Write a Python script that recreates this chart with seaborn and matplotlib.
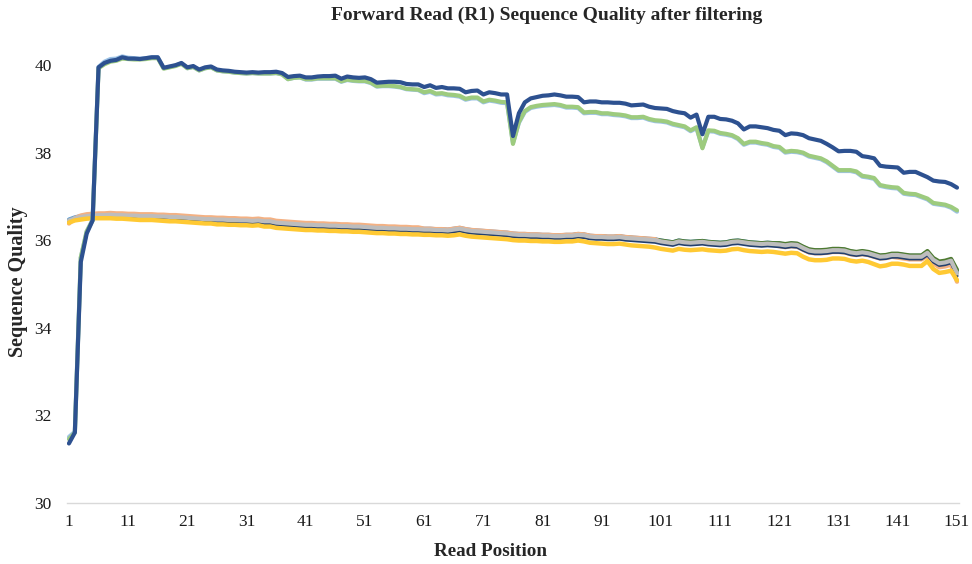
import numpy as np
import pandas as pd
import seaborn as sns
import matplotlib
matplotlib.use("Agg")
from matplotlib import pyplot as plt

# read positions 1..151 (x categories)
read_pos = np.arange(1, 152)
tick_pos = [1, 11, 21, 31, 41, 51, 61, 71, 81, 91, 101, 111, 121, 131, 141, 151]

# upper group of samples
dark_blue = [
    31.35, 31.60, 35.50, 36.15, 36.45, 39.95, 40.05, 40.10, 40.12, 40.18,
    40.15, 40.15, 40.14, 40.16, 40.18, 40.18, 39.94, 39.97, 40.00, 40.05,
    39.95, 39.98, 39.90, 39.95, 39.97, 39.90, 39.88, 39.87, 39.85, 39.84,
    39.83, 39.84, 39.83, 39.84, 39.84, 39.85, 39.82, 39.73, 39.75, 39.76,
    39.72, 39.72, 39.74, 39.75, 39.75, 39.76, 39.69, 39.74, 39.72, 39.71,
    39.72, 39.68, 39.60, 39.61, 39.62, 39.62, 39.61, 39.57, 39.56, 39.56,
    39.50, 39.54, 39.48, 39.50, 39.47, 39.47, 39.46, 39.38, 39.41, 39.42,
    39.33, 39.38, 39.36, 39.33, 39.33, 38.38, 38.90, 39.15, 39.24, 39.27,
    39.30, 39.31, 39.33, 39.31, 39.28, 39.28, 39.27, 39.15, 39.17, 39.17,
    39.15, 39.15, 39.14, 39.14, 39.12, 39.08, 39.09, 39.10, 39.05, 39.02,
    39.01, 39.00, 38.95, 38.92, 38.90, 38.80, 38.87, 38.42, 38.82, 38.82,
    38.77, 38.76, 38.73, 38.67, 38.53, 38.60, 38.60, 38.58, 38.56, 38.52,
    38.50, 38.40, 38.44, 38.43, 38.40, 38.33, 38.30, 38.27, 38.20, 38.12,
    38.03, 38.04, 38.04, 38.02, 37.92, 37.90, 37.87, 37.70, 37.68, 37.67,
    37.66, 37.54, 37.56, 37.56, 37.50, 37.44, 37.36, 37.34, 37.33, 37.28, 37.20]

light_green = [
    31.45, 31.60, 35.60, 36.20, 36.45, 39.93, 40.02, 40.08, 40.10, 40.15,
    40.14, 40.13, 40.13, 40.14, 40.16, 40.16, 39.92, 39.95, 39.98, 40.03,
    39.93, 39.96, 39.88, 39.93, 39.95, 39.88, 39.86, 39.85, 39.83, 39.82,
    39.81, 39.82, 39.81, 39.81, 39.81, 39.82, 39.79, 39.68, 39.71, 39.72,
    39.68, 39.68, 39.70, 39.70, 39.70, 39.70, 39.63, 39.67, 39.65, 39.64,
    39.64, 39.60, 39.52, 39.53, 39.53, 39.52, 39.50, 39.46, 39.45, 39.44,
    39.38, 39.41, 39.35, 39.36, 39.33, 39.32, 39.30, 39.23, 39.26, 39.26,
    39.17, 39.21, 39.19, 39.16, 39.15, 38.20, 38.70, 38.95, 39.04, 39.07,
    39.09, 39.10, 39.11, 39.09, 39.05, 39.05, 39.04, 38.92, 38.93, 38.93,
    38.90, 38.90, 38.88, 38.87, 38.85, 38.81, 38.81, 38.82, 38.77, 38.74,
    38.73, 38.71, 38.66, 38.63, 38.60, 38.51, 38.58, 38.10, 38.51, 38.50,
    38.45, 38.43, 38.40, 38.33, 38.20, 38.25, 38.25, 38.22, 38.20, 38.15,
    38.13, 38.02, 38.04, 38.03, 38.00, 37.93, 37.90, 37.87, 37.80, 37.70,
    37.60, 37.60, 37.60, 37.57, 37.47, 37.45, 37.42, 37.26, 37.23, 37.21,
    37.20, 37.08, 37.06, 37.05, 37.00, 36.95, 36.85, 36.83, 36.81, 36.76, 36.68]

light_blue = [
    31.50, 31.62, 35.60, 36.20, 36.47, 39.96, 40.08, 40.14, 40.15, 40.20,
    40.17, 40.16, 40.15, 40.16, 40.18, 40.18, 39.93, 39.96, 39.99, 40.04,
    39.93, 39.96, 39.88, 39.93, 39.95, 39.88, 39.86, 39.85, 39.83, 39.82,
    39.81, 39.82, 39.81, 39.81, 39.81, 39.82, 39.79, 39.68, 39.71, 39.72,
    39.67, 39.67, 39.69, 39.69, 39.69, 39.69, 39.62, 39.66, 39.64, 39.63,
    39.63, 39.59, 39.51, 39.52, 39.52, 39.51, 39.49, 39.45, 39.44, 39.43,
    39.36, 39.39, 39.33, 39.34, 39.31, 39.30, 39.28, 39.21, 39.24, 39.24,
    39.15, 39.19, 39.17, 39.14, 39.13, 38.22, 38.68, 38.93, 39.02, 39.05,
    39.07, 39.08, 39.09, 39.07, 39.03, 39.03, 39.02, 38.90, 38.91, 38.91,
    38.88, 38.88, 38.86, 38.85, 38.83, 38.79, 38.79, 38.80, 38.75, 38.72,
    38.71, 38.69, 38.64, 38.61, 38.58, 38.49, 38.56, 38.12, 38.49, 38.48,
    38.43, 38.41, 38.38, 38.31, 38.18, 38.23, 38.23, 38.20, 38.18, 38.13,
    38.11, 38.00, 38.02, 38.01, 37.98, 37.91, 37.88, 37.85, 37.78, 37.68,
    37.58, 37.58, 37.58, 37.55, 37.45, 37.43, 37.40, 37.24, 37.21, 37.19,
    37.18, 37.06, 37.04, 37.03, 36.98, 36.93, 36.83, 36.81, 36.79, 36.74, 36.65]

# lower group of samples
orange = [
    36.38, 36.50, 36.56, 36.59, 36.60, 36.61, 36.61, 36.62, 36.61, 36.61,
    36.60, 36.60, 36.59, 36.59, 36.59, 36.58, 36.58, 36.57, 36.57, 36.56,
    36.55, 36.54, 36.53, 36.52, 36.52, 36.51, 36.51, 36.50, 36.50, 36.49,
    36.49, 36.48, 36.49, 36.47, 36.47, 36.44, 36.43, 36.42, 36.41, 36.40,
    36.39, 36.39, 36.38, 36.38, 36.37, 36.37, 36.36, 36.36, 36.35, 36.35,
    36.34, 36.33, 36.32, 36.32, 36.31, 36.31, 36.30, 36.30, 36.29, 36.29,
    36.26, 36.26, 36.25, 36.25, 36.24, 36.26, 36.28, 36.25, 36.23, 36.22,
    36.21, 36.20, 36.19, 36.18, 36.17, 36.15, 36.14, 36.14, 36.13, 36.13,
    36.12, 36.12, 36.11, 36.11, 36.12, 36.12, 36.14, 36.13, 36.10, 36.09,
    36.09, 36.08, 36.08, 36.09, 36.07, 36.06, 36.05, 36.04, 36.03, 36.02,
    35.95, 35.93, 35.91, 35.95, 35.93, 35.92, 35.93, 35.94, 35.92, 35.91,
    35.90, 35.91, 35.94, 35.95, 35.93, 35.91, 35.90, 35.89, 35.90, 35.89,
    35.86, 35.84, 35.86, 35.85, 35.78, 35.72, 35.70, 35.70, 35.71, 35.73,
    35.73, 35.72, 35.68, 35.66, 35.68, 35.66, 35.62, 35.58, 35.59, 35.62,
    35.60, 35.58, 35.56, 35.56, 35.56, 35.64, 35.47, 35.38, 35.40, 35.44, 35.05]

gray = [
    36.45, 36.50, 36.53, 36.55, 36.56, 36.57, 36.57, 36.58, 36.57, 36.57,
    36.56, 36.56, 36.55, 36.55, 36.55, 36.54, 36.54, 36.53, 36.53, 36.52,
    36.51, 36.50, 36.49, 36.48, 36.48, 36.47, 36.47, 36.46, 36.46, 36.45,
    36.45, 36.44, 36.45, 36.43, 36.43, 36.40, 36.39, 36.38, 36.37, 36.36,
    36.35, 36.35, 36.34, 36.34, 36.33, 36.33, 36.32, 36.32, 36.31, 36.31,
    36.30, 36.29, 36.28, 36.28, 36.27, 36.27, 36.26, 36.26, 36.25, 36.25,
    36.24, 36.24, 36.23, 36.23, 36.22, 36.24, 36.26, 36.23, 36.21, 36.20,
    36.19, 36.18, 36.17, 36.16, 36.15, 36.13, 36.12, 36.12, 36.11, 36.11,
    36.10, 36.10, 36.09, 36.09, 36.10, 36.10, 36.12, 36.11, 36.08, 36.07,
    36.07, 36.06, 36.06, 36.07, 36.05, 36.04, 36.03, 36.02, 36.01, 36.00,
    35.97, 35.95, 35.93, 35.97, 35.95, 35.94, 35.95, 35.96, 35.94, 35.93,
    35.92, 35.93, 35.96, 35.97, 35.95, 35.93, 35.92, 35.91, 35.92, 35.91,
    35.90, 35.88, 35.90, 35.89, 35.82, 35.76, 35.74, 35.74, 35.75, 35.77,
    35.77, 35.76, 35.72, 35.70, 35.72, 35.70, 35.66, 35.62, 35.63, 35.66,
    35.66, 35.64, 35.62, 35.62, 35.62, 35.71, 35.55, 35.47, 35.49, 35.53, 35.24]

yellow = [
    36.40, 36.45, 36.47, 36.49, 36.50, 36.50, 36.50, 36.50, 36.49, 36.49,
    36.48, 36.47, 36.46, 36.46, 36.46, 36.45, 36.44, 36.43, 36.43, 36.42,
    36.41, 36.40, 36.39, 36.38, 36.38, 36.36, 36.36, 36.35, 36.35, 36.34,
    36.34, 36.33, 36.34, 36.31, 36.31, 36.28, 36.27, 36.26, 36.25, 36.24,
    36.23, 36.23, 36.22, 36.22, 36.21, 36.21, 36.20, 36.20, 36.19, 36.19,
    36.18, 36.17, 36.16, 36.16, 36.15, 36.15, 36.14, 36.14, 36.13, 36.13,
    36.12, 36.12, 36.11, 36.11, 36.10, 36.11, 36.13, 36.10, 36.08, 36.07,
    36.06, 36.05, 36.04, 36.03, 36.02, 36.00, 35.99, 35.99, 35.98, 35.98,
    35.97, 35.97, 35.96, 35.96, 35.97, 35.97, 35.99, 35.97, 35.94, 35.93,
    35.92, 35.91, 35.91, 35.92, 35.90, 35.88, 35.87, 35.86, 35.85, 35.83,
    35.80, 35.78, 35.76, 35.80, 35.78, 35.77, 35.78, 35.79, 35.77, 35.76,
    35.75, 35.76, 35.79, 35.80, 35.77, 35.75, 35.74, 35.73, 35.74, 35.73,
    35.71, 35.69, 35.71, 35.70, 35.62, 35.56, 35.54, 35.54, 35.55, 35.58,
    35.58, 35.57, 35.53, 35.51, 35.53, 35.50, 35.45, 35.40, 35.42, 35.46,
    35.46, 35.44, 35.41, 35.41, 35.41, 35.52, 35.34, 35.25, 35.27, 35.30, 35.08]

navy = [
    36.42, 36.47, 36.49, 36.51, 36.52, 36.53, 36.53, 36.54, 36.53, 36.53,
    36.52, 36.52, 36.51, 36.51, 36.51, 36.50, 36.50, 36.49, 36.49, 36.48,
    36.46, 36.45, 36.44, 36.43, 36.43, 36.42, 36.42, 36.41, 36.41, 36.40,
    36.40, 36.39, 36.40, 36.38, 36.38, 36.35, 36.34, 36.33, 36.32, 36.31,
    36.30, 36.30, 36.29, 36.29, 36.28, 36.28, 36.27, 36.27, 36.26, 36.26,
    36.25, 36.24, 36.23, 36.23, 36.22, 36.22, 36.21, 36.21, 36.20, 36.20,
    36.19, 36.19, 36.18, 36.18, 36.17, 36.19, 36.21, 36.18, 36.16, 36.15,
    36.14, 36.13, 36.12, 36.11, 36.10, 36.08, 36.07, 36.07, 36.06, 36.06,
    36.05, 36.05, 36.04, 36.04, 36.05, 36.05, 36.07, 36.06, 36.03, 36.02,
    36.02, 36.01, 36.01, 36.02, 36.00, 35.99, 35.98, 35.97, 35.96, 35.95,
    35.92, 35.90, 35.88, 35.92, 35.90, 35.89, 35.90, 35.91, 35.89, 35.88,
    35.87, 35.88, 35.91, 35.92, 35.90, 35.88, 35.87, 35.86, 35.87, 35.86,
    35.85, 35.83, 35.85, 35.84, 35.77, 35.71, 35.69, 35.69, 35.70, 35.72,
    35.72, 35.71, 35.67, 35.65, 35.67, 35.65, 35.61, 35.57, 35.58, 35.61,
    35.61, 35.59, 35.57, 35.57, 35.57, 35.66, 35.50, 35.42, 35.44, 35.48, 35.18]

blue = [
    36.47, 36.52, 36.55, 36.57, 36.58, 36.59, 36.59, 36.60, 36.59, 36.59,
    36.58, 36.58, 36.57, 36.57, 36.57, 36.56, 36.56, 36.55, 36.55, 36.54,
    36.53, 36.52, 36.51, 36.50, 36.50, 36.49, 36.49, 36.48, 36.48, 36.47,
    36.47, 36.46, 36.47, 36.45, 36.45, 36.42, 36.41, 36.40, 36.39, 36.38,
    36.37, 36.37, 36.36, 36.36, 36.35, 36.35, 36.34, 36.34, 36.33, 36.33,
    36.32, 36.31, 36.30, 36.30, 36.29, 36.29, 36.28, 36.28, 36.27, 36.27,
    36.26, 36.26, 36.25, 36.25, 36.24, 36.26, 36.28, 36.25, 36.23, 36.22,
    36.21, 36.20, 36.19, 36.18, 36.17, 36.15, 36.14, 36.14, 36.13, 36.13,
    36.12, 36.12, 36.11, 36.11, 36.12, 36.12, 36.14, 36.13, 36.10, 36.09,
    36.09, 36.08, 36.08, 36.09, 36.07, 36.06, 36.05, 36.04, 36.03, 36.02,
    35.99, 35.97, 35.95, 35.99, 35.97, 35.96, 35.97, 35.98, 35.96, 35.95,
    35.94, 35.95, 35.98, 35.99, 35.97, 35.95, 35.94, 35.93, 35.94, 35.93,
    35.92, 35.90, 35.92, 35.91, 35.84, 35.78, 35.76, 35.76, 35.77, 35.79,
    35.79, 35.78, 35.74, 35.72, 35.74, 35.72, 35.68, 35.64, 35.65, 35.68,
    35.68, 35.66, 35.64, 35.64, 35.64, 35.73, 35.57, 35.49, 35.51, 35.55, 35.28]

dark_green = [
    36.44, 36.49, 36.52, 36.54, 36.55, 36.56, 36.56, 36.57, 36.56, 36.56,
    36.55, 36.55, 36.54, 36.54, 36.54, 36.53, 36.53, 36.52, 36.52, 36.51,
    36.50, 36.49, 36.48, 36.47, 36.47, 36.46, 36.46, 36.45, 36.45, 36.44,
    36.44, 36.43, 36.44, 36.42, 36.42, 36.39, 36.38, 36.37, 36.36, 36.35,
    36.34, 36.34, 36.33, 36.33, 36.32, 36.32, 36.31, 36.31, 36.30, 36.30,
    36.29, 36.28, 36.27, 36.27, 36.26, 36.26, 36.25, 36.25, 36.24, 36.24,
    36.24, 36.24, 36.23, 36.23, 36.22, 36.24, 36.26, 36.23, 36.21, 36.20,
    36.19, 36.18, 36.17, 36.16, 36.15, 36.13, 36.12, 36.12, 36.11, 36.11,
    36.11, 36.11, 36.10, 36.10, 36.11, 36.11, 36.13, 36.12, 36.09, 36.08,
    36.08, 36.07, 36.07, 36.08, 36.06, 36.05, 36.04, 36.03, 36.02, 36.01,
    35.99, 35.97, 35.95, 35.99, 35.97, 35.96, 35.97, 35.98, 35.96, 35.95,
    35.94, 35.95, 35.98, 35.99, 35.97, 35.95, 35.94, 35.93, 35.94, 35.93,
    35.93, 35.91, 35.93, 35.92, 35.85, 35.79, 35.77, 35.77, 35.78, 35.80,
    35.80, 35.79, 35.75, 35.73, 35.75, 35.73, 35.69, 35.65, 35.66, 35.69,
    35.69, 35.67, 35.65, 35.65, 35.65, 35.75, 35.59, 35.51, 35.53, 35.57, 35.32]

# drawing order: first drawn ends up underneath
series = [
    (blue, "#5B9BD5", 3.0),
    (dark_green, "#4E7A30", 3.0),
    (orange, "#F4B183", 3.2),
    (navy, "#223F6E", 2.2),
    (gray, "#BDBDBD", 3.0),
    (yellow, "#FFC933", 3.2),
    (light_blue, "#9DC3E6", 3.0),
    (light_green, "#9DCB7E", 3.0),
    (dark_blue, "#2D5190", 3.0),
]

sns.set_style("white")
plt.rcParams["font.family"] = ["Liberation Serif", "DejaVu Serif"]

fig = plt.figure(figsize=(9.72, 5.64), dpi=100)
ax = fig.add_axes([0.0691, 0.109, 0.9173, 0.853])

for vals, col, lw in series:
    sns.lineplot(x=read_pos, y=vals, color=col, linewidth=lw, ax=ax,
                 solid_joinstyle="round", solid_capstyle="round")

ax.set_xlim(0.7, 151.3)
ax.set_ylim(30, 41)
ax.set_xticks(tick_pos)
ax.set_xticklabels([str(t) for t in tick_pos])
ax.set_yticks([30, 32, 34, 36, 38, 40])
ax.tick_params(axis="both", length=0, labelsize=12.5, colors="#1a1a1a")
ax.tick_params(axis="x", pad=8)
ax.tick_params(axis="y", pad=11)

for side in ["top", "right", "left"]:
    ax.spines[side].set_visible(False)
ax.spines["bottom"].set_color("#D9D9D9")
ax.spines["bottom"].set_linewidth(1.0)
ax.set_xlabel("")
ax.set_ylabel("")

fig.text(547 / 972, 1 - 15 / 564, "Forward Read (R1) Sequence Quality after filtering",
         ha="center", va="center", fontsize=14, fontweight="bold")
fig.text(490 / 972, 1 - 551 / 564, "Read Position",
         ha="center", va="center", fontsize=13.8, fontweight="bold")
fig.text(18 / 972, 1 - 282 / 564, "Sequence Quality", rotation=90,
         ha="center", va="center", fontsize=14.5, fontweight="bold")

fig.savefig("out.png", dpi=100)
